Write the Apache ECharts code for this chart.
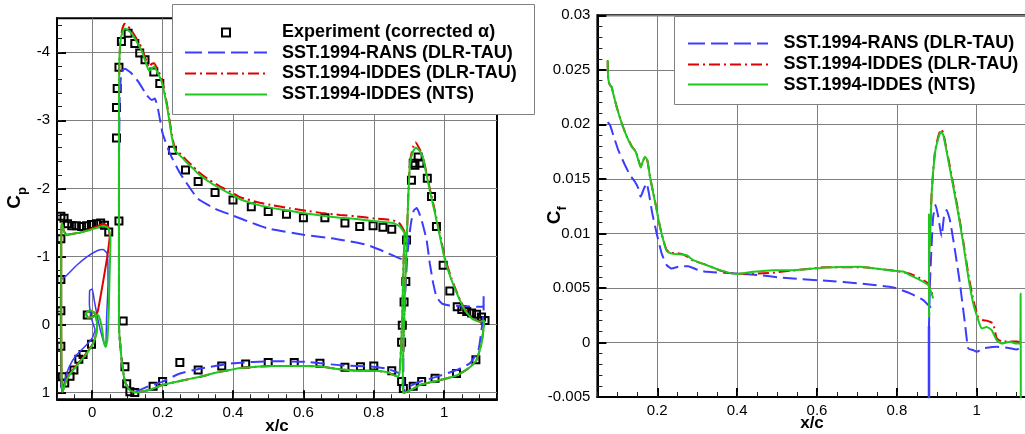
<!DOCTYPE html>
<html><head><meta charset="utf-8">
<script src="https://cdn.jsdelivr.net/npm/echarts@6/dist/echarts.min.js"></script>
<style>html,body{margin:0;padding:0;background:#fff}#c{width:1025px;height:434px}</style>
</head><body><div id="c"></div>
<script>
// ---------- names & ticks ----------
const legendNames = ['Experiment (corrected \u03b1)', 'SST.1994-RANS (DLR-TAU)', 'SST.1994-IDDES (DLR-TAU)', 'SST.1994-IDDES (NTS)'];
const cpXTicks = [0, 0.2, 0.4, 0.6, 0.8, 1];
const cpYTicks = [-4, -3, -2, -1, 0, 1];
const cfXTicks = [0.2, 0.4, 0.6, 0.8, 1];
const xTitle = 'x/c';

// ---------- Cp data (x/c, Cp) ----------
const cpExp = [
 [-0.089,-1.59],[-0.080,-1.56],[-0.070,-1.48],[-0.058,-1.45],[-0.045,-1.45],[-0.030,-1.44],[-0.016,-1.45],[-0.002,-1.47],[0.012,-1.48],[0.024,-1.49],[0.035,-1.46],[0.047,-1.36],
 [-0.089,-1.26],[-0.089,-0.66],[-0.089,-0.20],[-0.089,0.32],[-0.085,0.77],[-0.078,0.86],[-0.063,0.76],[-0.052,0.67],[-0.038,0.51],[-0.026,0.44],[-0.002,0.29],[-0.014,-0.14],
 [0.069,-2.74],[0.069,-3.19],[0.071,-3.47],[0.076,-3.78],[0.083,-4.16],[0.102,-4.28],[0.121,-4.13],[0.135,-3.99],[0.150,-3.89],[0.175,-3.71],[0.192,-3.54],[0.228,-2.56],[0.265,-2.27],[0.301,-2.10],[0.349,-1.94],[0.400,-1.83],[0.452,-1.73],[0.500,-1.66],[0.552,-1.62],[0.600,-1.57],[0.661,-1.57],[0.718,-1.49],[0.760,-1.44],[0.798,-1.45],[0.826,-1.43],[0.851,-1.40],
 [0.076,-1.52],[0.088,-0.05],[0.093,0.62],[0.098,0.87],[0.107,0.99],[0.121,1.0],[0.173,0.91],[0.200,0.84],[0.249,0.56],[0.301,0.67],[0.368,0.61],[0.436,0.58],[0.500,0.56],[0.574,0.56],[0.647,0.57],[0.718,0.63],[0.762,0.62],[0.800,0.61],[0.851,0.68],
 [0.893,-1.24],[0.891,-0.63],[0.886,-0.33],[0.881,0.01],[0.879,0.26],[0.879,0.84],[0.884,0.94],[0.907,-2.12],[0.912,-2.37],[0.917,-2.34],[0.926,-2.46],[0.931,-2.37],[0.952,-2.15],[0.964,-1.88],[0.978,-1.44],[0.997,-0.87],[1.016,-0.49],[1.037,-0.26],[1.050,-0.22],[1.064,-0.19],[1.078,-0.17],[1.092,-0.15],[1.106,-0.11],[1.116,-0.06],
 [0.912,0.91],[0.936,0.84],[0.974,0.79],[1.035,0.72],[1.090,0.52]
];
const cpRansSlat = [[0.039,0.33],[0.041,-0.11],[0.045,-0.60],[0.043,-1.04],[0.031,-1.10],[0.0125,-1.08],[-0.016,-0.99],[-0.044,-0.87],[-0.073,-0.72],[-0.089,-0.65],[-0.090,0.0],[-0.088,0.9],[-0.085,1.0],[-0.078,0.82],[-0.065,0.62],[-0.045,0.45],[-0.02,0.32],[0.0,0.2],[0.008,0.08],[0.0,-0.05],[-0.008,-0.3],[-0.007,-0.5],[0.0,-0.52],[0.006,-0.35],[0.015,-0.1],[0.025,0.12],[0.034,0.28],[0.039,0.33]];
const cpRansMain = [[0.879,-0.96],[0.865,-0.99],[0.83,-1.07],[0.78,-1.17],[0.70,-1.25],[0.60,-1.32],[0.50,-1.41],[0.45,-1.50],[0.40,-1.60],[0.35,-1.70],[0.30,-1.85],[0.25,-2.22],[0.221,-2.51],[0.2,-2.81],[0.1875,-3.15],[0.178,-3.32],[0.169,-3.30],[0.155,-3.37],[0.131,-3.57],[0.112,-3.69],[0.093,-3.76],[0.083,-3.71],[0.078,-3.3],[0.076,-2.0],[0.076,0.0],[0.081,0.38],[0.086,0.62],[0.093,0.84],[0.107,0.96],[0.126,0.98],[0.155,0.92],[0.2,0.84],[0.249,0.72],[0.306,0.65],[0.4,0.57],[0.514,0.54],[0.609,0.55],[0.704,0.60],[0.798,0.62],[0.836,0.65],[0.865,0.70],[0.875,0.72]];
const cpRansFlap = [[0.884,0.99],[0.884,0.5],[0.888,-0.3],[0.895,-1.0],[0.902,-1.35],[0.907,-1.53],[0.914,-1.68],[0.922,-1.71],[0.936,-1.53],[0.95,-1.24],[0.959,-0.90],[0.969,-0.60],[0.978,-0.41],[0.993,-0.31],[1.016,-0.28],[1.054,-0.27],[1.092,-0.26],[1.111,-0.26],[1.112,-0.43],[1.112,-0.2],[1.108,0.0],[1.106,0.08],[1.097,0.38],[1.073,0.57],[1.035,0.67],[0.978,0.77],[0.931,0.84],[0.898,0.92],[0.884,0.99]];
const cpTauSlat = [[0.050,-1.30],[0.045,-1.44],[0.031,-1.48],[0.013,-1.44],[-0.011,-1.39],[-0.035,-1.35],[-0.058,-1.33],[-0.073,-1.32],[-0.080,-1.37],[-0.085,-1.47],[-0.087,-1.50],[-0.088,-1.2],[-0.088,0.0],[-0.087,0.8],[-0.084,0.99],[-0.078,0.88],[-0.068,0.76],[-0.054,0.66],[-0.035,0.54],[-0.016,0.42],[0.003,0.27],[0.012,0.12],[0.014,-0.02],[0.008,-0.16],[-0.006,-0.21],[-0.018,-0.16],[-0.012,-0.10],[0.003,-0.12],[0.015,-0.18],[0.025,-0.45],[0.035,-0.75],[0.043,-1.0],[0.048,-1.2],[0.050,-1.30]];
const cpTauMain = [[0.888,-1.36],[0.874,-1.48],[0.855,-1.53],[0.798,-1.56],[0.75,-1.59],[0.704,-1.61],[0.65,-1.64],[0.609,-1.67],[0.56,-1.71],[0.514,-1.75],[0.476,-1.79],[0.42,-1.87],[0.40,-1.93],[0.37,-2.01],[0.334,-2.12],[0.30,-2.25],[0.287,-2.32],[0.265,-2.43],[0.254,-2.49],[0.235,-2.59],[0.226,-2.80],[0.216,-3.13],[0.207,-3.39],[0.197,-3.62],[0.185,-3.76],[0.176,-3.84],[0.169,-3.83],[0.161,-3.78],[0.155,-3.86],[0.14,-4.07],[0.126,-4.20],[0.112,-4.32],[0.100,-4.39],[0.092,-4.42],[0.086,-4.35],[0.08,-4.18],[0.077,-3.8],[0.076,-3.0],[0.076,-1.5],[0.076,0.03],[0.081,0.38],[0.086,0.62],[0.093,0.84],[0.107,0.97],[0.126,1.0],[0.145,0.98],[0.164,0.96],[0.2,0.89],[0.259,0.82],[0.306,0.77],[0.35,0.71],[0.40,0.66],[0.42,0.64],[0.514,0.61],[0.609,0.61],[0.656,0.62],[0.704,0.66],[0.751,0.68],[0.798,0.68],[0.836,0.70],[0.86,0.75],[0.869,0.77],[0.874,0.67],[0.880,0.0],[0.885,-1.0],[0.888,-1.36]];
const cpTauFlap = [[0.884,1.01],[0.882,0.87],[0.884,0.33],[0.888,-0.41],[0.893,-1.14],[0.898,-1.90],[0.903,-2.40],[0.911,-2.60],[0.918,-2.68],[0.93,-2.58],[0.94,-2.45],[0.95,-2.22],[0.959,-2.00],[0.974,-1.66],[0.988,-1.32],[1.002,-0.98],[1.021,-0.67],[1.04,-0.42],[1.059,-0.22],[1.078,-0.10],[1.101,-0.04],[1.114,-0.06],[1.112,0.05],[1.106,0.28],[1.092,0.52],[1.073,0.63],[1.035,0.75],[0.978,0.83],[0.931,0.89],[0.903,0.97],[0.884,1.01]];
const cpNtsSlat = [[0.050,-1.34],[0.045,-1.42],[0.031,-1.45],[0.013,-1.42],[-0.011,-1.38],[-0.035,-1.35],[-0.058,-1.33],[-0.073,-1.31],[-0.080,-1.36],[-0.085,-1.47],[-0.087,-1.49],[-0.088,-1.2],[-0.088,0.0],[-0.087,0.8],[-0.084,0.99],[-0.078,0.89],[-0.068,0.77],[-0.054,0.67],[-0.035,0.55],[-0.016,0.43],[0.003,0.28],[0.012,0.13],[0.014,-0.01],[0.008,-0.16],[-0.006,-0.21],[-0.018,-0.16],[-0.014,-0.10],[0.003,-0.11],[0.017,-0.14],[0.027,0.03],[0.033,0.26],[0.038,0.33],[0.043,0.23],[0.047,-0.21],[0.050,-0.85],[0.052,-1.24],[0.050,-1.34]];
const cpNtsMain = [[0.888,-1.34],[0.874,-1.44],[0.855,-1.49],[0.798,-1.52],[0.75,-1.55],[0.704,-1.57],[0.65,-1.60],[0.609,-1.63],[0.56,-1.67],[0.514,-1.71],[0.476,-1.75],[0.42,-1.84],[0.40,-1.90],[0.37,-1.98],[0.334,-2.09],[0.30,-2.22],[0.287,-2.29],[0.265,-2.40],[0.254,-2.46],[0.235,-2.56],[0.226,-2.76],[0.216,-3.10],[0.207,-3.35],[0.197,-3.57],[0.185,-3.71],[0.176,-3.79],[0.169,-3.76],[0.161,-3.73],[0.155,-3.81],[0.14,-4.03],[0.126,-4.16],[0.112,-4.28],[0.100,-4.33],[0.093,-4.35],[0.086,-4.30],[0.08,-4.15],[0.077,-3.8],[0.076,-3.0],[0.076,-1.5],[0.076,0.03],[0.081,0.38],[0.086,0.62],[0.093,0.84],[0.107,0.97],[0.126,1.0],[0.145,0.98],[0.164,0.96],[0.2,0.89],[0.259,0.82],[0.306,0.77],[0.35,0.71],[0.40,0.66],[0.42,0.64],[0.514,0.61],[0.609,0.61],[0.656,0.62],[0.704,0.66],[0.751,0.68],[0.798,0.68],[0.836,0.70],[0.86,0.75],[0.869,0.77],[0.874,0.67],[0.880,0.0],[0.885,-1.0],[0.888,-1.34]];
const cpNtsFlap = [[0.884,1.01],[0.882,0.87],[0.884,0.33],[0.888,-0.41],[0.893,-1.14],[0.898,-1.88],[0.903,-2.37],[0.911,-2.54],[0.919,-2.60],[0.93,-2.55],[0.94,-2.44],[0.95,-2.20],[0.959,-1.97],[0.974,-1.63],[0.988,-1.29],[1.002,-0.95],[1.021,-0.65],[1.04,-0.41],[1.059,-0.21],[1.078,-0.09],[1.101,-0.04],[1.114,-0.06],[1.112,0.05],[1.106,0.28],[1.092,0.52],[1.073,0.63],[1.035,0.75],[0.978,0.83],[0.931,0.89],[0.903,0.97],[0.884,1.01]];

// ---------- Cf data (x/c, Cf) ----------
const cfRansMain = [[0.0758,0.0202],[0.0815,0.01994],[0.0898,0.01902],[0.1023,0.01764],[0.119,0.01627],[0.1316,0.01535],[0.144,0.01473],[0.1524,0.01413],[0.1584,0.01336],[0.165,0.01397],[0.1734,0.01459],[0.179,0.01367],[0.1875,0.01183],[0.1985,0.0100],[0.211,0.00816],[0.2235,0.00709],[0.236,0.00679],[0.2526,0.00694],[0.2777,0.0070],[0.3027,0.00663],[0.3237,0.00648],[0.3989,0.00633],[0.457,0.00617],[0.507,0.00596],[0.5406,0.00587],[0.624,0.00565],[0.7077,0.00541],[0.791,0.00505],[0.833,0.0045],[0.866,0.00388],[0.891,0.00296]];
const cfRansFlap = [[0.8805,-0.0052],[0.8805,0.0015],[0.8830,0.0055],[0.8873,0.00908],[0.891,0.01152],[0.897,0.0126],[0.9038,0.01152],[0.912,0.00969],[0.918,0.01152],[0.9247,0.01214],[0.933,0.01122],[0.9455,0.00847],[0.958,0.00541],[0.9706,0.00174],[0.9789,-0.00055],[0.9914,-0.0007],[1.0,-0.00086],[1.016,-0.00055],[1.05,-0.0004],[1.08,-0.0005],[1.1,-0.00064],[1.1125,-0.0004]];
const cfTauMain = [[0.0758,0.0258],[0.0762,0.0249],[0.0775,0.0240],[0.0815,0.0236],[0.0858,0.0234],[0.0898,0.0228],[0.0983,0.0216],[0.111,0.0201],[0.1234,0.0189],[0.136,0.0180],[0.146,0.0175],[0.1524,0.0168],[0.1584,0.0161],[0.1634,0.0166],[0.1692,0.0170],[0.175,0.0167],[0.1817,0.0152],[0.19,0.0137],[0.1985,0.0122],[0.2068,0.0106],[0.215,0.0094],[0.2235,0.0085],[0.236,0.0082],[0.2486,0.0082],[0.262,0.0081],[0.2736,0.0079],[0.29,0.0075],[0.3237,0.0071],[0.357,0.0066],[0.3989,0.0063],[0.44,0.0063],[0.4905,0.0064],[0.5406,0.0066],[0.624,0.0069],[0.7077,0.0069],[0.791,0.0066],[0.8329,0.0063],[0.858,0.0059],[0.8787,0.0054],[0.891,0.0042]];
const cfTauFlap = [[0.8805,0.0030],[0.8815,0.0085],[0.8873,0.0138],[0.8955,0.0175],[0.9038,0.0189],[0.9105,0.01955],[0.9163,0.0192],[0.9288,0.0169],[0.9413,0.0145],[0.9538,0.0120],[0.9663,0.0093],[0.9789,0.0063],[0.9914,0.0039],[1.004,0.0023],[1.016,0.00205],[1.025,0.0020],[1.041,0.00174],[1.05,0.0004],[1.0625,0.0001],[1.083,0.0001],[1.1,0.0001],[1.11,0.0]];
const cfNtsMain = [[0.0758,0.0259],[0.0760,0.0250],[0.0775,0.0241],[0.0815,0.0236],[0.0858,0.02345],[0.0898,0.0228],[0.0983,0.0216],[0.111,0.0201],[0.1234,0.0189],[0.136,0.01795],[0.146,0.01749],[0.1524,0.01672],[0.1584,0.01605],[0.1634,0.01657],[0.1692,0.01703],[0.175,0.01672],[0.1817,0.0152],[0.19,0.01367],[0.1985,0.01214],[0.2068,0.0106],[0.215,0.00939],[0.2235,0.0084],[0.236,0.00815],[0.2486,0.0081],[0.2736,0.0080],[0.29,0.00755],[0.3237,0.00709],[0.357,0.00663],[0.3989,0.00627],[0.44,0.00648],[0.4905,0.00663],[0.5406,0.00663],[0.624,0.00688],[0.7077,0.00694],[0.791,0.00657],[0.816,0.0065],[0.8329,0.00617],[0.858,0.00572],[0.8787,0.00526],[0.891,0.00404]];
const cfNtsFlap = [[0.8805,0.0023],[0.8805,0.0118],[0.8815,0.0080],[0.8873,0.01367],[0.8955,0.01734],[0.9038,0.01872],[0.9105,0.01932],[0.9163,0.01902],[0.9288,0.01672],[0.9413,0.01428],[0.9538,0.01183],[0.9663,0.00908],[0.9789,0.00602],[0.9914,0.00358],[1.004,0.00205],[1.0124,0.00128],[1.025,0.00143],[1.0375,0.00113],[1.05,0.00021],[1.0625,-0.0001],[1.083,0.00006],[1.1,-0.0001],[1.109,-0.0001],[1.110,0.0045],[1.1105,-0.0052]];

// ---------- styles ----------
const FONT = '"Liberation Sans", Arial, Helvetica, sans-serif';
const BLUE = '#3c3cff', RED = '#e00000', GREEN = '#1ec81e';
const GRIDC = '#7f7f7f';

function steps(a, b, s) { const r = []; for (let v = a; v <= b + 1e-9; v += s) r.push(Math.round(v * 1000) / 1000); return r; }
const cpXMinor = steps(-0.1, 1.15, 0.05);
const cpYMinor = steps(-4.4, 1.0, 0.2);
const cfXMinor = steps(0.05, 1.1, 0.05);

const HIDDEN_LINE = { show: true, onZero: false, lineStyle: { color: 'rgba(0,0,0,0)', width: 0 } };

function majorX(grid, min, max, ticks, gap) {
  return { gridIndex: grid, type: 'value', min, max, position: 'bottom',
    axisLine: { onZero: false, lineStyle: { color: '#000', width: 2 } },
    axisTick: { inside: true, length: 9, customValues: ticks, lineStyle: { color: '#000', width: 2 } },
    axisLabel: { customValues: ticks, margin: 6, color: '#000', fontSize: 15, fontFamily: FONT, formatter: v => String(v) },
    splitLine: { show: true, lineStyle: { color: GRIDC, width: 1 } },
    name: xTitle, nameLocation: 'middle', nameGap: gap, nameMoveOverlap: false,
    nameTextStyle: { color: '#000', fontSize: 17, fontWeight: 'bold', fontFamily: FONT, verticalAlign: 'top' } };
}
function minorX(grid, min, max, ticks) {
  return { gridIndex: grid, type: 'value', min, max, position: 'bottom', offset: 0,
    axisLine: HIDDEN_LINE, axisLabel: { show: false }, splitLine: { show: false },
    axisTick: { show: true, inside: true, length: 5, customValues: ticks, lineStyle: { color: '#222', width: 1 } } };
}
function ln(data, xi, yi, color, type, width, name, z) {
  return { type: 'line', name, xAxisIndex: xi, yAxisIndex: yi, data, showSymbol: false, symbol: 'none',
    smooth: 0.15, lineStyle: { color, type, width }, itemStyle: { color }, z, silent: true, animation: false };
}
const DASH = [14, 6], DASHDOT = [11, 4, 2, 4];

const chart = echarts.init(document.getElementById('c'), null, { renderer: 'canvas' });
const richC = { c: { fontSize: 19, fontWeight: 'bold', fontFamily: FONT, color: '#000', padding: [0, 0, 5, 0] }, s: { fontSize: 13, fontWeight: 'bold', fontFamily: FONT, color: '#000', verticalAlign: 'bottom' } };

const option = {
  animation: false,
  backgroundColor: '#fff',
  grid: [
    { left: 57, top: 18.3, width: 440, height: 381, show: true, borderColor: '#000', borderWidth: 2, backgroundColor: 'transparent', containLabel: false, outerBoundsMode: 'none' },
    { left: 597.4, top: 15.3, width: 429.2, height: 381.7, show: true, borderColor: '#000', borderWidth: 2, backgroundColor: 'transparent', containLabel: false, outerBoundsMode: 'none' }
  ],
  xAxis: [
    majorX(0, -0.1, 1.15, cpXTicks, 19),
    minorX(0, -0.1, 1.15, cpXMinor),
    majorX(1, 0.05, 1.125, cfXTicks, 18),
    minorX(1, 0.05, 1.125, cfXMinor)
  ],
  yAxis: [
    { gridIndex: 0, type: 'value', inverse: true, min: -4.5, max: 1.1, position: 'left',
      axisLine: { onZero: false, lineStyle: { color: '#000', width: 2 } },
      axisTick: { inside: true, length: 9, customValues: cpYTicks, lineStyle: { color: '#000', width: 2 } },
      axisLabel: { customValues: cpYTicks, margin: 7, color: '#000', fontSize: 15, fontFamily: FONT },
      splitLine: { show: true, lineStyle: { color: GRIDC, width: 1 } },
      name: '{c|C}{s|p}', nameLocation: 'middle', nameRotate: 90, nameGap: 28, nameMoveOverlap: false,
      nameTextStyle: { rich: richC, padding: [0, 0, 0, 22] } },
    { gridIndex: 0, type: 'value', inverse: true, min: -4.5, max: 1.1, position: 'left', offset: 0,
      axisLine: HIDDEN_LINE, axisLabel: { show: false }, splitLine: { show: false },
      axisTick: { show: true, inside: true, length: 5, customValues: cpYMinor, lineStyle: { color: '#222', width: 1 } } },
    { gridIndex: 1, type: 'value', min: -0.005, max: 0.03, interval: 0.005, position: 'left',
      axisLine: { onZero: false, lineStyle: { color: '#000', width: 2 } },
      axisTick: { inside: true, length: 9, lineStyle: { color: '#000', width: 2 } },
      minorTick: { show: true, splitNumber: 5, length: 5, lineStyle: { color: '#222', width: 1 } },
      axisLabel: { margin: 7, color: '#000', fontSize: 15, fontFamily: FONT },
      splitLine: { show: true, lineStyle: { color: GRIDC, width: 1 } },
      name: '{c|C}{s|f}', nameLocation: 'middle', nameRotate: 90, nameGap: 28, nameMoveOverlap: false,
      nameTextStyle: { rich: richC, padding: [0, 18, 0, 0] } }
  ],
  series: [
    { type: 'scatter', name: legendNames[0], xAxisIndex: 0, yAxisIndex: 0, data: cpExp, symbol: 'rect', symbolSize: 7,
      itemStyle: { color: 'rgba(255,255,255,0)', borderColor: '#000', borderWidth: 2, opacity: 1 }, z: 2, silent: true },
    ln(cpRansSlat, 0, 0, BLUE, 'solid', 1.5, legendNames[1], 3),
    ln(cpRansMain, 0, 0, BLUE, DASH, 2, legendNames[1], 3),
    ln(cpRansFlap, 0, 0, BLUE, DASH, 2, legendNames[1], 3),
    ln(cpTauSlat, 0, 0, RED, 'solid', 2, legendNames[2], 4),
    ln(cpTauMain, 0, 0, RED, DASHDOT, 2, legendNames[2], 4),
    ln(cpTauFlap, 0, 0, RED, DASHDOT, 2, legendNames[2], 4),
    ln(cpNtsSlat, 0, 0, GREEN, 'solid', 2, legendNames[3], 5),
    ln(cpNtsMain, 0, 0, GREEN, 'solid', 2, legendNames[3], 5),
    ln(cpNtsFlap, 0, 0, GREEN, 'solid', 2, legendNames[3], 5),
    ln(cfRansMain, 2, 2, BLUE, DASH, 2, legendNames[1], 3),
    ln(cfRansFlap.slice(0, 2), 2, 2, BLUE, 'solid', 2.5, legendNames[1], 3),
    ln(cfRansFlap.slice(1), 2, 2, BLUE, DASH, 2, legendNames[1], 3),
    ln(cfTauMain, 2, 2, RED, DASHDOT, 2, legendNames[2], 4),
    ln(cfTauFlap, 2, 2, RED, DASHDOT, 2, legendNames[2], 4),
    ln(cfNtsMain, 2, 2, GREEN, 'solid', 2, legendNames[3], 5),
    ln(cfNtsFlap, 2, 2, GREEN, 'solid', 2, legendNames[3], 5)
  ],
  graphic: [
    // left legend
    { type: 'rect', z: 100, shape: { x: 172.5, y: 4.5, width: 362, height: 110 }, style: { fill: '#fff', stroke: '#808080', lineWidth: 1 } },
    { type: 'rect', z: 101, shape: { x: 222, y: 28.5, width: 8, height: 8 }, style: { fill: '#fff', stroke: '#000', lineWidth: 2 } },
    { type: 'line', z: 101, shape: { x1: 185, y1: 52.5, x2: 267, y2: 52.5 }, style: { stroke: BLUE, lineWidth: 2, lineDash: [17, 6] } },
    { type: 'line', z: 101, shape: { x1: 185, y1: 73.5, x2: 267, y2: 73.5 }, style: { stroke: RED, lineWidth: 2, lineDash: DASHDOT } },
    { type: 'line', z: 101, shape: { x1: 185, y1: 94.5, x2: 267, y2: 94.5 }, style: { stroke: GREEN, lineWidth: 2 } },
    { type: 'text', z: 101, style: { x: 282, y: 32.5, text: legendNames[0], fill: '#000', fontSize: 18, fontWeight: 'bold', fontFamily: FONT, verticalAlign: 'middle' } },
    { type: 'text', z: 101, style: { x: 282, y: 53.5, text: legendNames[1], fill: '#000', fontSize: 18, fontWeight: 'bold', fontFamily: FONT, verticalAlign: 'middle' } },
    { type: 'text', z: 101, style: { x: 282, y: 73.5, text: legendNames[2], fill: '#000', fontSize: 18, fontWeight: 'bold', fontFamily: FONT, verticalAlign: 'middle' } },
    { type: 'text', z: 101, style: { x: 282, y: 94.5, text: legendNames[3], fill: '#000', fontSize: 18, fontWeight: 'bold', fontFamily: FONT, verticalAlign: 'middle' } },
    // right legend
    { type: 'rect', z: 100, shape: { x: 674.5, y: 16.5, width: 360, height: 88 }, style: { fill: '#fff', stroke: '#808080', lineWidth: 1 } },
    { type: 'line', z: 101, shape: { x1: 688, y1: 43.5, x2: 768, y2: 43.5 }, style: { stroke: BLUE, lineWidth: 2, lineDash: [17, 6] } },
    { type: 'line', z: 101, shape: { x1: 688, y1: 64.5, x2: 768, y2: 64.5 }, style: { stroke: RED, lineWidth: 2, lineDash: DASHDOT } },
    { type: 'line', z: 101, shape: { x1: 688, y1: 84.5, x2: 768, y2: 84.5 }, style: { stroke: GREEN, lineWidth: 2 } },
    { type: 'text', z: 101, style: { x: 783.5, y: 43.5, text: legendNames[1], fill: '#000', fontSize: 18, fontWeight: 'bold', fontFamily: FONT, verticalAlign: 'middle' } },
    { type: 'text', z: 101, style: { x: 783.5, y: 64.5, text: legendNames[2], fill: '#000', fontSize: 18, fontWeight: 'bold', fontFamily: FONT, verticalAlign: 'middle' } },
    { type: 'text', z: 101, style: { x: 783.5, y: 85, text: legendNames[3], fill: '#000', fontSize: 18, fontWeight: 'bold', fontFamily: FONT, verticalAlign: 'middle' } }
  ]
};
chart.setOption(option);
</script>
</body></html>
